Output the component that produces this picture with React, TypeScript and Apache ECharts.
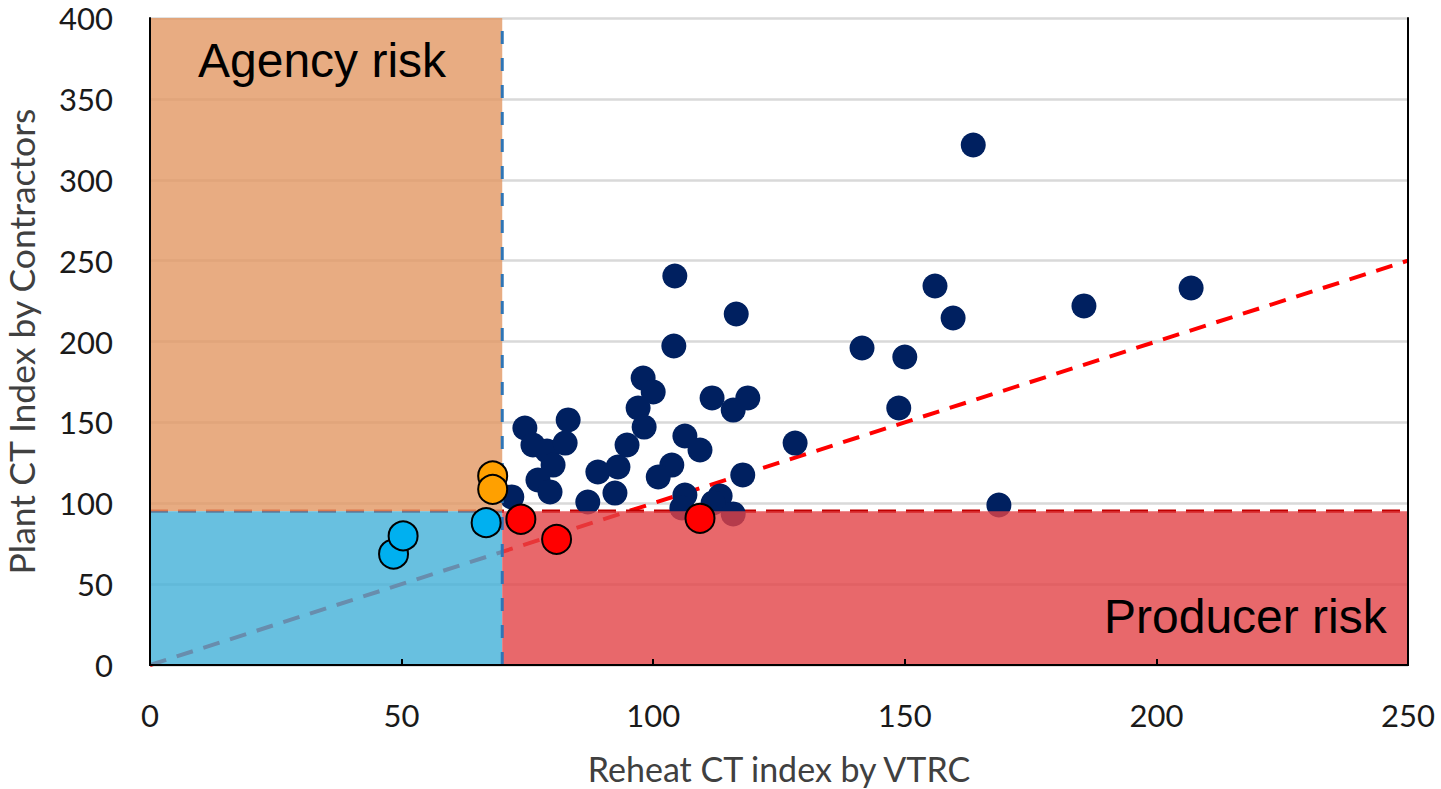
import React, { useEffect, useRef } from "react";
import * as echarts from "echarts";

// Axis ranges / ticks
const xMin = 0;
const xMax = 250;
const xStep = 50;
const yMin = 0;
const yMax = 400;
const yStep = 50;

// Thresholds
const agencyLimitX = 70;
const producerLimitY = 95;

// Contractor mixes (navy)
const navyX = [163.6, 104.3, 156.0, 206.9, 185.6, 116.5, 159.6, 141.5, 104.1, 150.0, 98.0, 100.0, 111.7, 118.8, 97.0, 115.9, 148.8, 98.2, 83.1, 74.5, 106.3, 128.2, 76.1, 78.9, 82.5, 94.8, 109.3, 103.7, 93.0, 89.0, 80.1, 77.1, 101.0, 117.8, 79.5, 87.0, 92.4, 106.3, 71.9, 105.7, 113.3, 111.9, 115.9, 168.7];
const navyY = [321.5, 240.5, 234.3, 233.1, 222.0, 217.0, 214.5, 196.0, 197.2, 190.4, 177.4, 168.8, 165.1, 165.1, 158.9, 157.6, 158.9, 147.1, 151.5, 146.5, 141.6, 137.2, 136.0, 132.3, 137.2, 136.0, 132.9, 123.6, 122.4, 119.3, 123.6, 114.4, 116.2, 117.5, 107.0, 100.8, 106.3, 105.1, 103.9, 97.1, 104.5, 100.2, 93.4, 98.9];

const orangeX = [68.1, 68.1];
const orangeY = [116.9, 108.6];
const blueX = [48.4, 50.3, 66.8];
const blueY = [68.6, 79.8, 88.0];
const redX = [73.7, 80.8, 109.3];
const redY = [90.1, 77.7, 90.7];

// Risk regions: [x0, y0, x1, y1]
const regionBounds = [
  [xMin, producerLimitY, agencyLimitX, yMax],
  [xMin, yMin, agencyLimitX, producerLimitY],
  [agencyLimitX, yMin, xMax, producerLimitY],
];
const regionColors = ["rgba(226,151,99,0.8)", "rgba(66,176,216,0.8)", "rgba(226,66,70,0.8)"];

const zip = (xs: number[], ys: number[]) => xs.map((x, i) => [x, ys[i]]);

const tickFont = "Lato";

export default function App() {
  const ref = useRef<HTMLDivElement>(null);
  useEffect(() => {
    if (!ref.current) return;
    const chart = echarts.init(ref.current, null, { renderer: "svg" });
    const axisOnly = {
      min: 0,
      axisLabel: { show: false },
      axisTick: { show: false },
      splitLine: { show: false },
      axisLine: { show: true, lineStyle: { color: "#000", width: 2 } },
      z: 10,
    };
    const option: any = {
      animation: false,
      backgroundColor: "#fff",
      grid: { left: 150, right: 33, top: 18, bottom: 124, containLabel: false, outerBoundsMode: "none" },
      xAxis: [
        {
          type: "value",
          min: xMin,
          max: xMax,
          interval: xStep,
          position: "bottom",
          name: "Reheat CT index by VTRC",
          nameLocation: "middle",
          nameGap: 86,
          nameTextStyle: { fontFamily: tickFont, fontSize: 34, color: "#404040" },
          axisLine: { show: true, lineStyle: { color: "#000", width: 2 } },
          axisTick: { show: true, inside: true, length: 6, lineStyle: { color: "#000", width: 2 } },
          axisLabel: { fontFamily: tickFont, fontSize: 31, color: "#1a1a1a", margin: 34 },
          splitLine: { show: false },
          z: 10,
        },
        { ...axisOnly, type: "value", max: xMax, position: "top" },
      ],
      yAxis: [
        {
          type: "value",
          min: yMin,
          max: yMax,
          interval: yStep,
          position: "left",
          name: "Plant CT Index by Contractors",
          nameLocation: "middle",
          nameGap: 111,
          nameTextStyle: { fontFamily: tickFont, fontSize: 35.5, color: "#404040" },
          axisLine: { show: false },
          axisTick: { show: false },
          axisLabel: { fontFamily: tickFont, fontSize: 31, color: "#1a1a1a", margin: 37 },
          splitLine: { show: true, lineStyle: { color: "#d9d9d9", width: 2.5 } },
        },
        { ...axisOnly, type: "value", max: yMax, position: "left" },
        { ...axisOnly, type: "value", max: yMax, position: "right" },
      ],
      series: [
        {
          type: "line",
          data: [[xMin, yMin], [xMax, xMax]],
          symbol: "none",
          lineStyle: { color: "#ff0000", width: 4, type: [17, 11] },
          z: 1,
        },
        {
          type: "line",
          data: [[xMin, producerLimitY], [xMax, producerLimitY]],
          symbol: "none",
          lineStyle: { color: "#c00000", width: 3.5, type: [18, 10] },
          z: 1,
        },
        {
          type: "scatter",
          data: zip(navyX, navyY),
          symbolSize: 25,
          itemStyle: { color: "#002060", opacity: 1 },
          z: 2,
        },
        {
          type: "custom",
          data: regionBounds.map((b, i) => [...b, i]),
          encode: { x: [0, 2], y: [1, 3] },
          renderItem: (params: any, api: any) => {
            const p0 = api.coord([api.value(0), api.value(3)]);
            const p1 = api.coord([api.value(2), api.value(1)]);
            return {
              type: "rect",
              shape: { x: p0[0], y: p0[1], width: p1[0] - p0[0], height: p1[1] - p0[1] },
              style: { fill: regionColors[api.value(4)] },
            };
          },
          z: 3,
        },
        {
          type: "line",
          data: [[agencyLimitX, yMin], [agencyLimitX, yMax]],
          symbol: "none",
          lineStyle: { color: "#2e75b6", width: 3, type: [13, 14] },
          z: 4,
        },
        {
          type: "scatter",
          data: zip(orangeX, orangeY),
          symbolSize: 29,
          itemStyle: { color: "#ffa000", borderColor: "#000", borderWidth: 2, opacity: 1 },
          z: 5,
        },
        {
          type: "scatter",
          data: zip(blueX, blueY),
          symbolSize: 29,
          itemStyle: { color: "#00b0f0", borderColor: "#000", borderWidth: 2, opacity: 1 },
          z: 5,
        },
        {
          type: "scatter",
          data: zip(redX, redY),
          symbolSize: 29,
          itemStyle: { color: "#ff0000", borderColor: "#000", borderWidth: 2, opacity: 1 },
          z: 5,
        },
      ],
      graphic: [
        {
          type: "text",
          left: 198,
          top: 36,
          z: 20,
          style: { text: "Agency risk", font: "48px 'Liberation Sans'", fill: "#000" },
        },
        {
          type: "text",
          left: 1104,
          top: 592,
          z: 20,
          style: { text: "Producer risk", font: "48px 'Liberation Sans'", fill: "#000" },
        },
      ],
    };
    chart.setOption(option);
    return () => chart.dispose();
  }, []);
  return (
    <div
      ref={ref}
      style={{ position: "absolute", left: 0, top: 0, width: 1441, height: 789, background: "#fff" }}
    />
  );
}
